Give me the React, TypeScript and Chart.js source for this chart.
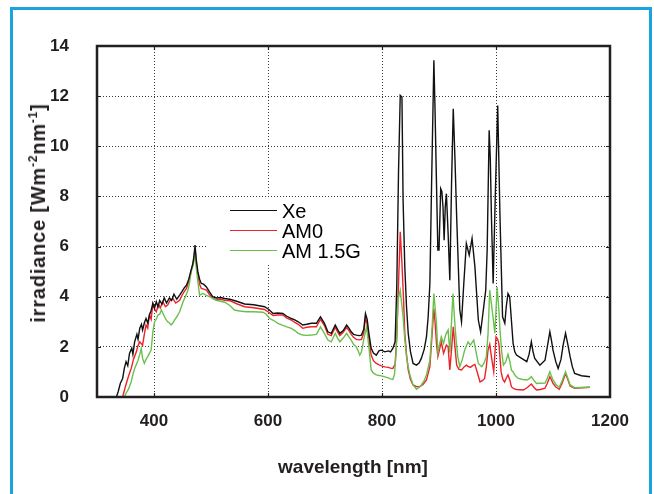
import React, { useEffect, useRef } from 'react';
import { Chart, registerables } from 'chart.js';

Chart.register(...registerables);

// ---- data (wavelength nm, irradiance W m^-2 nm^-1) ----
const xTickValues = [400, 600, 800, 1000, 1200];
const yTickValues = [0, 2, 4, 6, 8, 10, 12, 14];
const seriesNames = ['Xe', 'AM0', 'AM 1.5G'];
const seriesColors = ['#111111', '#ee2229', '#69c04c'];

const xeSpectrum: [number, number][] = [
  [334, 0], [337, 0.2], [341, 0.55], [345, 0.74], [348, 1.15], [351, 1.41], [354, 1.25], [357, 1.74],
  [361, 1.95], [363, 1.7], [366, 2.2], [370, 2.5], [372, 2.3], [375, 2.74], [378, 2.9], [380, 2.67],
  [383, 2.95], [386, 3.13], [389, 2.95], [392, 3.27], [395, 3.45], [398, 3.73], [401, 3.55], [404, 3.8],
  [407, 3.6], [410, 3.85], [414, 3.7], [418, 3.95], [422, 3.75], [427, 3.95], [431, 3.85], [435, 4.1],
  [440, 3.9], [445, 4.06], [449, 4.2], [453, 4.35], [457, 4.46], [461, 4.7], [465, 5.06], [468, 5.3],
  [470, 5.6], [472, 6.06], [474, 5.5], [477, 4.99], [480, 4.7], [483, 4.53], [487, 4.5], [492, 4.39],
  [497, 4.2], [503, 4.0], [510, 3.95], [517, 3.97], [524, 3.93], [533, 3.9], [545, 3.82], [559, 3.71],
  [575, 3.68], [594, 3.6], [601, 3.5], [609, 3.33], [617, 3.35], [626, 3.33], [633, 3.22], [641, 3.13],
  [647, 3.08], [653, 3.0], [661, 2.87], [668, 2.9], [676, 2.94], [685, 2.94], [692, 3.2], [699, 2.94],
  [705, 2.6], [711, 2.54], [718, 2.87], [722, 2.7], [726, 2.54], [732, 2.65], [738, 2.87], [742, 2.75],
  [746, 2.6], [750, 2.5], [755, 2.47], [760, 2.45], [764, 2.47], [768, 2.7], [771, 3.33], [774, 3.1],
  [777, 2.54], [781, 1.94], [785, 1.75], [790, 1.67], [795, 1.85], [799, 1.87], [805, 1.8], [811, 1.84],
  [815, 1.8], [819, 1.94], [823, 2.2], [826, 4.5], [829, 9.0], [832, 12.03], [835, 11.96], [837, 7.85],
  [840, 5.19], [843, 3.6], [846, 2.54], [850, 1.8], [854.5, 1.34], [860.5, 1.27], [865, 1.35], [869, 1.54],
  [874, 1.9], [878, 2.4], [881, 3.2], [884, 4.53], [887, 8.51], [891, 13.43], [893, 11.5], [895.6, 8.51],
  [898, 5.86], [900, 5.86], [903, 8.31], [905, 8.2], [907, 7.58], [909, 6.25], [911, 7.6], [913, 8.11],
  [916, 6.52], [919, 4.66], [922, 8.5], [925, 11.5], [928, 9.5], [931, 7.18], [936.5, 3.47], [939.5, 3.0],
  [943.5, 4.53], [948, 6.12], [953, 5.66], [958, 6.32], [963, 5.19], [969, 3.07], [973, 2.6], [977, 3.33],
  [982, 4.26], [984.5, 5.86], [988, 10.64], [990, 9.5], [992, 7.18], [995, 4.53], [999, 8.25], [1003, 11.63],
  [1007, 7.18], [1011.5, 3.2], [1015.5, 2.94], [1018, 3.6], [1021, 4.13], [1024, 4.0], [1027, 3.07], [1030, 2.14],
  [1033, 1.8], [1036, 1.67], [1045, 1.54], [1054, 1.41], [1058, 1.7], [1062, 2.2], [1065, 1.8], [1068, 1.54],
  [1077, 1.27], [1086, 1.47], [1090, 2.0], [1094.5, 2.6], [1097, 2.3], [1100, 1.87], [1105, 1.4], [1109, 1.14],
  [1114, 1.5], [1118, 2.1], [1122, 2.54], [1126, 2.1], [1130, 1.61], [1134, 1.2], [1138, 0.94], [1150, 0.85],
  [1165, 0.81],
];

const am0Spectrum: [number, number][] = [
  [345, 0], [349, 0.35], [354, 0.74], [357, 0.95], [360, 1.14], [364, 1.5], [369, 1.8], [372, 2.05],
  [375, 2.2], [380, 2.07], [383, 2.5], [386, 2.87], [389, 2.75], [392, 3.27], [395, 3.1], [398, 3.73],
  [401, 3.5], [404, 3.4], [408, 3.7], [411, 3.55], [415.5, 3.8], [420, 3.6], [424, 3.67], [428, 3.85],
  [433, 3.93], [438, 3.75], [445, 3.86], [449, 4.05], [453, 4.2], [457, 4.33], [461, 4.6], [465, 4.99],
  [468, 5.3], [470, 5.5], [472, 5.92], [474, 5.4], [477, 4.86], [480, 4.5], [483, 4.33], [487, 4.3],
  [492, 4.26], [497, 4.1], [503, 3.93], [510, 3.88], [517, 3.9], [524, 3.86], [533, 3.84], [545, 3.72],
  [559, 3.6], [575, 3.56], [594, 3.49], [601, 3.38], [609, 3.25], [617, 3.27], [626, 3.27], [633, 3.15],
  [641, 3.07], [647, 2.98], [653, 2.9], [661, 2.74], [668, 2.78], [676, 2.8], [685, 2.8], [692, 3.1],
  [699, 2.85], [705, 2.5], [711, 2.45], [718, 2.78], [722, 2.6], [726, 2.45], [732, 2.58], [738, 2.78],
  [742, 2.65], [746, 2.5], [750, 2.38], [755, 2.3], [760, 2.28], [764, 2.3], [768, 2.55], [771, 3.17],
  [774, 2.9], [777, 2.3], [781, 1.67], [785, 1.45], [790, 1.34], [795, 1.28], [799, 1.24], [805, 1.2],
  [811, 1.18], [815, 1.15], [819, 1.14], [823, 1.3], [826, 2.4], [828, 3.86], [832, 6.59], [835, 5.33],
  [838, 3.8], [840, 2.54], [843, 1.7], [846, 1.08], [850, 0.7], [854.5, 0.48], [860, 0.42], [866, 0.41],
  [872, 0.5], [878, 0.68], [884, 1.21], [888, 2.54], [891, 3.53], [893, 3.0], [895.6, 2.14], [898, 1.61],
  [901, 1.9], [904, 2.2], [908, 1.74], [913, 2.07], [916, 2.0], [919, 1.08], [922, 1.9], [925, 2.8],
  [928, 2.0], [931, 1.27], [935, 1.1], [939.5, 1.08], [944, 1.2], [948, 1.27], [951, 1.22], [955, 1.18],
  [959, 1.25], [963, 1.3], [967, 1.0], [972, 0.6], [976, 0.65], [980, 0.74], [983, 1.2], [986, 1.87],
  [989, 2.1], [992, 1.6], [996, 1.01], [1000, 2.4], [1003, 2.3], [1005, 2.14], [1009, 1.0], [1012, 0.7],
  [1015, 0.6], [1018, 0.75], [1021, 0.88], [1024, 0.7], [1027, 0.41], [1031, 0.33], [1036, 0.3], [1048, 0.28],
  [1055, 0.38], [1062, 0.52], [1066, 0.4], [1071, 0.28], [1078, 0.3], [1086, 0.35], [1090, 0.55], [1094.5, 0.81],
  [1097, 0.7], [1100, 0.54], [1105, 0.4], [1111, 0.31], [1116, 0.55], [1122, 0.94], [1126, 0.7], [1130, 0.44],
  [1138, 0.35], [1150, 0.37], [1165, 0.39],
];

const am15gSpectrum: [number, number][] = [
  [348, 0], [351, 0.15], [355, 0.3], [360, 0.61], [363, 0.9], [366, 1.14], [369, 1.3], [372, 1.47],
  [375, 1.7], [377.6, 1.94], [380, 1.54], [383, 1.34], [386, 1.5], [389, 1.61], [392, 1.75], [395, 1.87],
  [398, 2.6], [401, 3.0], [404, 3.1], [407, 3.27], [410, 3.3], [413, 3.47], [418.5, 3.2], [421, 3.1],
  [424, 3.0], [427, 2.95], [430, 2.87], [433, 2.95], [436, 3.07], [440, 3.2], [445, 3.4], [451, 3.8],
  [455, 4.0], [459.5, 4.26], [462, 4.5], [465, 4.99], [468, 5.2], [470, 5.4], [472, 5.79], [474, 5.2],
  [477, 4.59], [480, 4.06], [486, 4.13], [492, 4.05], [497.5, 4.0], [509, 3.86], [524, 3.78], [533, 3.65],
  [541, 3.47], [550, 3.43], [562, 3.4], [575, 3.4], [591, 3.38], [597, 3.3], [603, 3.13], [610, 3.05],
  [617.5, 2.94], [625, 2.87], [633, 2.8], [641, 2.74], [647, 2.65], [653, 2.54], [661, 2.47], [668, 2.46],
  [676, 2.47], [685, 2.5], [692, 2.8], [699, 2.54], [705, 2.27], [711, 2.2], [718, 2.54], [722, 2.35],
  [726, 2.2], [732, 2.35], [738, 2.54], [742, 2.4], [746, 2.27], [750, 2.1], [755, 2.0], [758, 1.85],
  [761, 1.67], [764, 1.8], [768, 2.3], [773, 2.8], [775, 2.4], [777, 2.0], [781, 1.08], [785, 0.95],
  [790, 0.88], [795, 0.86], [799, 0.84], [805, 0.8], [811, 0.76], [815, 0.72], [819, 0.7], [822, 0.9],
  [825, 1.87], [828, 3.86], [832, 4.26], [837, 3.2], [840, 2.3], [843, 1.61], [846, 1.2], [849, 0.88],
  [854.5, 0.48], [860.5, 0.31], [865, 0.38], [869, 0.48], [874, 0.65], [878, 0.88], [884, 1.47], [888, 2.8],
  [891, 4.13], [893, 3.6], [895.6, 2.94], [898, 1.77], [901, 2.1], [904, 2.4], [908, 2.14], [912, 2.5],
  [916, 2.67], [919, 1.77], [922, 3.0], [924.5, 4.13], [927, 3.2], [930, 2.27], [933, 1.6], [936.5, 1.21],
  [941, 1.5], [945, 1.87], [951, 2.2], [955, 2.07], [961, 2.27], [965, 1.8], [969, 1.34], [975, 1.21],
  [979, 1.35], [983, 1.61], [986, 2.5], [989, 4.26], [994, 3.33], [998, 2.54], [1002, 4.39], [1005, 3.5],
  [1007, 2.67], [1010, 1.8], [1013, 1.27], [1017, 1.4], [1021, 1.7], [1024, 1.45], [1027, 1.08], [1030, 1.0],
  [1034, 0.85], [1039, 0.74], [1047, 0.7], [1054, 0.68], [1058, 0.72], [1062, 0.81], [1066, 0.68], [1071, 0.54],
  [1078, 0.55], [1086, 0.56], [1090, 0.75], [1094.5, 1.01], [1097, 0.85], [1100, 0.68], [1105, 0.5], [1111, 0.39],
  [1116, 0.65], [1122, 1.01], [1126, 0.75], [1130, 0.48], [1138, 0.37], [1150, 0.38], [1165, 0.39],
];

const spectra = [xeSpectrum, am0Spectrum, am15gSpectrum];

const TEXT_COLOR = '#231f20';
const FONT_FAMILY = '"Liberation Sans", Arial, Helvetica, sans-serif';

export default function App() {
  const canvasRef = useRef<HTMLCanvasElement | null>(null);

  useEffect(() => {
    const canvas = canvasRef.current;
    if (!canvas) return;

    const framePlugin = {
      id: 'plotFrame',
      afterDatasetsDraw(chart: any) {
        const { ctx, chartArea } = chart;
        const { left, top, right, bottom } = chartArea;
        ctx.save();
        ctx.strokeStyle = TEXT_COLOR;
        ctx.lineWidth = 1.2;
        const xs = chart.scales.x;
        const ys = chart.scales.y;
        ctx.beginPath();
        xTickValues.slice(0, -1).forEach((v) => {
          const px = Math.round(xs.getPixelForValue(v)) + 0.5;
          ctx.moveTo(px, top);
          ctx.lineTo(px, top + 4);
          ctx.moveTo(px, bottom);
          ctx.lineTo(px, bottom - 4);
        });
        yTickValues.slice(1, -1).forEach((v) => {
          const py = Math.round(ys.getPixelForValue(v)) + 0.5;
          ctx.moveTo(left, py);
          ctx.lineTo(left + 4, py);
          ctx.moveTo(right, py);
          ctx.lineTo(right - 4, py);
        });
        ctx.stroke();
        ctx.lineWidth = 2.5;
        ctx.strokeRect(left, top, right - left, bottom - top);
        ctx.restore();
      },
    };

    const legendPlugin = {
      id: 'insideLegend',
      afterDraw(chart: any) {
        const { ctx } = chart;
        ctx.save();
        ctx.fillStyle = '#ffffff';
        ctx.fillRect(207, 199, 163, 65);
        const rows = [210.5, 230.5, 250.5];
        seriesNames.forEach((name, i) => {
          ctx.strokeStyle = seriesColors[i];
          ctx.lineWidth = 1.2;
          ctx.beginPath();
          ctx.moveTo(230, rows[i]);
          ctx.lineTo(277, rows[i]);
          ctx.stroke();
          ctx.fillStyle = '#000000';
          ctx.font = `20px ${FONT_FAMILY}`;
          ctx.textBaseline = 'alphabetic';
          ctx.textAlign = 'left';
          ctx.fillText(name, 282, rows[i] + 7);
        });
        ctx.restore();
      },
    };

    const chart = new Chart(canvas, {
      type: 'line',
      data: {
        datasets: seriesNames.map((name, i) => ({
          label: name,
          data: spectra[i].map(([x, y]) => ({ x, y })),
          borderColor: seriesColors[i],
          backgroundColor: seriesColors[i],
          borderWidth: 1.4,
          pointRadius: 0,
          tension: 0,
          fill: false,
          order: i === 0 ? 0 : i === 2 ? 1 : 2,
        })),
      },
      options: {
        responsive: false,
        animation: false,
        devicePixelRatio: 1,
        layout: { padding: { left: 0, top: 46, right: 44, bottom: 0 } },
        plugins: {
          legend: { display: false },
          tooltip: { enabled: false },
        },
        scales: {
          x: {
            type: 'linear',
            min: 300,
            max: 1200,
            afterBuildTicks: (s: any) => {
              s.ticks = xTickValues.map((v) => ({ value: v }));
            },
            afterFit: (s: any) => {
              s.height = 97;
            },
            grid: { color: '#3a3a3a', lineWidth: 1, drawTicks: false },
            border: { display: false, dash: [1, 2] },
            ticks: {
              font: { family: FONT_FAMILY, size: 17, weight: 'bold' },
              color: TEXT_COLOR,
              padding: 14,
              maxRotation: 0,
              autoSkip: false,
              callback: (v: any) => String(v),
            },
          },
          y: {
            type: 'linear',
            min: 0,
            max: 14,
            afterBuildTicks: (s: any) => {
              s.ticks = yTickValues.map((v) => ({ value: v }));
            },
            afterFit: (s: any) => {
              s.width = 97;
            },
            grid: { color: '#3a3a3a', lineWidth: 1, drawTicks: false },
            border: { display: false, dash: [1, 2] },
            ticks: {
              font: { family: FONT_FAMILY, size: 17, weight: 'bold' },
              color: TEXT_COLOR,
              padding: 28,
              autoSkip: false,
              callback: (v: any) => String(v),
            },
          },
        },
      },
      plugins: [framePlugin, legendPlugin],
    } as any);

    return () => chart.destroy();
  }, []);

  return (
    <div
      style={{
        position: 'fixed',
        left: 0,
        top: 0,
        width: 654,
        height: 494,
        background: '#ffffff',
        overflow: 'hidden',
      }}
    >
      <div
        style={{
          position: 'absolute',
          left: 10,
          top: 7,
          width: 636,
          height: 600,
          border: '3px solid #1ba3e0',
        }}
      />
      <canvas
        ref={canvasRef}
        width={654}
        height={494}
        style={{ position: 'absolute', left: 0, top: 0, width: 654, height: 494 }}
      />
      <div
        style={{
          position: 'absolute',
          left: 38,
          top: 213,
          transform: 'translate(-50%, -50%) rotate(-90deg)',
          whiteSpace: 'nowrap',
          font: `bold 20px ${FONT_FAMILY}`,
          letterSpacing: '0.8px',
          lineHeight: 1,
          color: TEXT_COLOR,
        }}
      >
        irradiance [Wm
        <span style={{ fontSize: '0.6em', position: 'relative', top: '-0.7em' }}>-2</span>
        nm
        <span style={{ fontSize: '0.6em', position: 'relative', top: '-0.7em' }}>-1</span>]
      </div>
      <div
        style={{
          position: 'absolute',
          left: 353,
          top: 466,
          transform: 'translate(-50%, -50%)',
          whiteSpace: 'nowrap',
          font: `bold 19px ${FONT_FAMILY}`,
          lineHeight: 1,
          color: TEXT_COLOR,
        }}
      >
        wavelength [nm]
      </div>
    </div>
  );
}
